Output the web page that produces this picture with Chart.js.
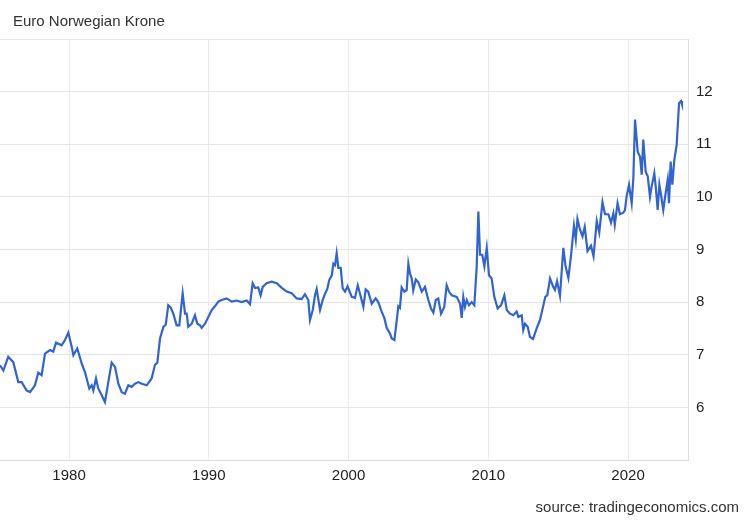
<!DOCTYPE html>
<html>
<head>
<meta charset="utf-8">
<script src="https://cdn.jsdelivr.net/npm/chart.js@4"></script>
<style>
  html, body { margin: 0; padding: 0; background: #ffffff; }
  #wrap { width: 750px; height: 520px; position: relative; }
</style>
</head>
<body>
<div id="wrap"><canvas id="c" width="750" height="520"></canvas></div>
<script>
const titleText = "Euro Norwegian Krone";
const sourceText = "source: tradingeconomics.com";
const xTickYears = [1980, 1990, 2000, 2010, 2020];
const yTickValues = [5, 6, 7, 8, 9, 10, 11, 12, 13];

const years = [
  1975.06, 1975.30, 1975.65, 1976.01, 1976.37, 1976.61, 1976.97, 1977.21, 1977.56, 1977.80,
  1978.04, 1978.28, 1978.64, 1978.87, 1979.07, 1979.47, 1979.71, 1979.95, 1980.19, 1980.31,
  1980.59, 1980.91, 1981.14, 1981.45, 1981.62, 1981.74, 1981.93, 1982.09, 1982.34, 1982.57,
  1982.81, 1983.05, 1983.29, 1983.53, 1983.77, 1984.00, 1984.24, 1984.48, 1984.72, 1984.96,
  1985.20, 1985.56, 1985.91, 1986.15, 1986.32, 1986.51, 1986.75, 1986.92, 1987.10, 1987.27,
  1987.46, 1987.70, 1987.89, 1988.13, 1988.30, 1988.42, 1988.53, 1988.78, 1989.01, 1989.18,
  1989.37, 1989.49, 1989.73, 1989.97, 1990.21, 1990.44, 1990.68, 1990.92, 1991.28, 1991.64,
  1992.00, 1992.35, 1992.71, 1992.95, 1993.14, 1993.31, 1993.54, 1993.71, 1993.86, 1994.14,
  1994.50, 1994.86, 1995.22, 1995.58, 1995.93, 1996.29, 1996.65, 1996.88, 1997.12, 1997.24,
  1997.44, 1997.60, 1997.72, 1997.96, 1998.15, 1998.32, 1998.48, 1998.62, 1998.80, 1998.91,
  1999.03, 1999.15, 1999.27, 1999.44, 1999.58, 1999.75, 1999.93, 2000.23, 2000.46, 2000.66,
  2000.82, 2001.06, 2001.23, 2001.41, 2001.66, 2001.94, 2002.13, 2002.37, 2002.56, 2002.73,
  2002.97, 2003.09, 2003.28, 2003.45, 2003.56, 2003.68, 2003.80, 2003.99, 2004.16, 2004.28,
  2004.40, 2004.52, 2004.63, 2004.81, 2004.99, 2005.24, 2005.47, 2005.71, 2005.90, 2006.07,
  2006.24, 2006.42, 2006.62, 2006.85, 2007.02, 2007.19, 2007.38, 2007.74, 2007.98, 2008.10,
  2008.21, 2008.33, 2008.46, 2008.62, 2008.81, 2009.00, 2009.17, 2009.29, 2009.41, 2009.57,
  2009.72, 2009.89, 2010.05, 2010.24, 2010.43, 2010.67, 2010.91, 2011.15, 2011.32, 2011.55,
  2011.79, 2012.03, 2012.15, 2012.39, 2012.50, 2012.63, 2012.82, 2012.98, 2013.20, 2013.46,
  2013.70, 2013.89, 2014.08, 2014.22, 2014.42, 2014.63, 2014.77, 2014.92, 2015.13, 2015.37,
  2015.53, 2015.73, 2015.90, 2016.13, 2016.26, 2016.38, 2016.56, 2016.74, 2016.90, 2017.10,
  2017.35, 2017.53, 2017.76, 2017.94, 2018.17, 2018.35, 2018.59, 2018.78, 2018.95, 2019.05,
  2019.25, 2019.42, 2019.66, 2019.78, 2019.90, 2020.07, 2020.26, 2020.38, 2020.50, 2020.69,
  2020.86, 2020.98, 2021.09, 2021.26, 2021.41, 2021.57, 2021.69, 2021.88, 2021.98, 2022.12,
  2022.24, 2022.36, 2022.52, 2022.69, 2022.84, 2022.93, 2023.05, 2023.17, 2023.31, 2023.48,
  2023.65, 2023.79, 2023.86
];

const rates = [
  6.80, 6.70, 6.96, 6.86, 6.48, 6.48, 6.32, 6.29, 6.42, 6.66,
  6.61, 7.02, 7.09, 7.06, 7.23, 7.18, 7.28, 7.42, 7.15, 6.99,
  7.12, 6.83, 6.67, 6.36, 6.42, 6.32, 6.55, 6.36, 6.23, 6.10,
  6.48, 6.85, 6.77, 6.45, 6.29, 6.26, 6.42, 6.39, 6.45, 6.48,
  6.45, 6.42, 6.55, 6.81, 6.85, 7.31, 7.53, 7.57, 7.94, 7.90,
  7.78, 7.56, 7.56, 8.17, 7.78, 7.78, 7.53, 7.59, 7.75, 7.59,
  7.56, 7.51, 7.59, 7.72, 7.85, 7.92, 8.01, 8.04, 8.07, 8.01,
  8.03, 8.00, 8.03, 7.96, 8.36, 8.27, 8.28, 8.13, 8.29, 8.36,
  8.39, 8.36, 8.27, 8.20, 8.17, 8.07, 8.06, 8.15, 8.04, 7.66,
  7.85, 8.13, 8.25, 7.85, 8.04, 8.16, 8.25, 8.42, 8.51, 8.73,
  8.70, 8.93, 8.65, 8.65, 8.26, 8.20, 8.30, 8.10, 8.08, 8.32,
  8.16, 7.91, 8.24, 8.20, 7.97, 8.07, 8.00, 7.82, 7.70, 7.51,
  7.40, 7.31, 7.28, 7.66, 7.92, 7.89, 8.28, 8.20, 8.23, 8.73,
  8.54, 8.45, 8.22, 8.43, 8.38, 8.20, 8.29, 8.04, 7.88, 7.80,
  8.04, 8.07, 7.78, 7.91, 8.32, 8.20, 8.13, 8.10, 7.97, 7.70,
  8.10, 7.91, 8.04, 7.94, 8.00, 7.94, 8.68, 9.72, 8.90, 8.90,
  8.68, 9.03, 8.51, 8.45, 8.10, 7.88, 7.94, 8.13, 7.85, 7.78,
  7.75, 7.82, 7.72, 7.75, 7.47, 7.59, 7.53, 7.34, 7.30, 7.50,
  7.66, 7.88, 8.10, 8.13, 8.45, 8.30, 8.23, 8.40, 8.12, 9.03,
  8.68, 8.46, 8.84, 9.45, 9.19, 9.58, 9.38, 9.25, 9.43, 8.97,
  9.07, 8.87, 9.54, 9.32, 9.90, 9.67, 9.67, 9.51, 9.69, 9.47,
  9.88, 9.67, 9.70, 9.75, 10.01, 10.23, 9.88, 10.36, 11.47, 10.86,
  10.76, 10.42, 11.09, 10.48, 10.39, 10.00, 10.20, 10.45, 10.20, 9.75,
  10.23, 10.04, 9.75, 10.07, 10.33, 9.88, 10.67, 10.23, 10.70, 10.99,
  11.78, 11.82, 11.76
];

const points = years.map((yr, i) => ({ x: yr, y: rates[i] }));

const textPlugin = {
  id: 'texts',
  afterDraw(chart) {
    const ctx = chart.ctx;
    ctx.save();
    ctx.font = '15px "Liberation Sans", Arial, sans-serif';
    ctx.fillStyle = '#333333';
    ctx.textBaseline = 'alphabetic';
    ctx.textAlign = 'left';
    ctx.fillText(titleText, 13, 26);
    ctx.textAlign = 'right';
    ctx.fillText(sourceText, 739, 512);
    ctx.restore();
  }
};

new Chart(document.getElementById('c'), {
  type: 'line',
  data: {
    datasets: [{
      data: points,
      borderColor: '#3163d1',
      borderWidth: 2.2,
      pointRadius: 0,
      tension: 0,
      fill: false
    }]
  },
  options: {
    responsive: false,
    animation: false,
    devicePixelRatio: 1,
    layout: { padding: { top: 39, left: 0, right: 0, bottom: 0 } },
    plugins: { legend: { display: false }, tooltip: { enabled: false }, title: { display: false } },
    scales: {
      x: {
        type: 'linear',
        min: 1975.06,
        max: 2024.29,
        afterBuildTicks(scale) { scale.ticks = xTickYears.map(v => ({ value: v })); },
        afterFit(scale) { scale.height = 60; },
        grid: { color: '#ececec', drawTicks: false, lineWidth: 1 },
        border: { display: true, color: '#dedede' },
        ticks: {
          color: '#222222',
          padding: 7,
          maxRotation: 0,
          font: { family: '"Liberation Sans", Arial, sans-serif', size: 15 },
          callback: v => String(v)
        }
      },
      y: {
        position: 'right',
        min: 5,
        max: 13,
        afterBuildTicks(scale) { scale.ticks = yTickValues.map(v => ({ value: v })); },
        afterFit(scale) { scale.width = 62; },
        grid: { color: '#e6e6e6', drawTicks: false, lineWidth: 1 },
        border: { display: true, color: '#dedede' },
        ticks: {
          color: '#222222',
          padding: 8,
          font: { family: '"Liberation Sans", Arial, sans-serif', size: 15 },
          callback: v => (v >= 6 && v <= 12) ? String(v) : ''
        }
      }
    }
  },
  plugins: [textPlugin]
});
</script>
</body>
</html>
